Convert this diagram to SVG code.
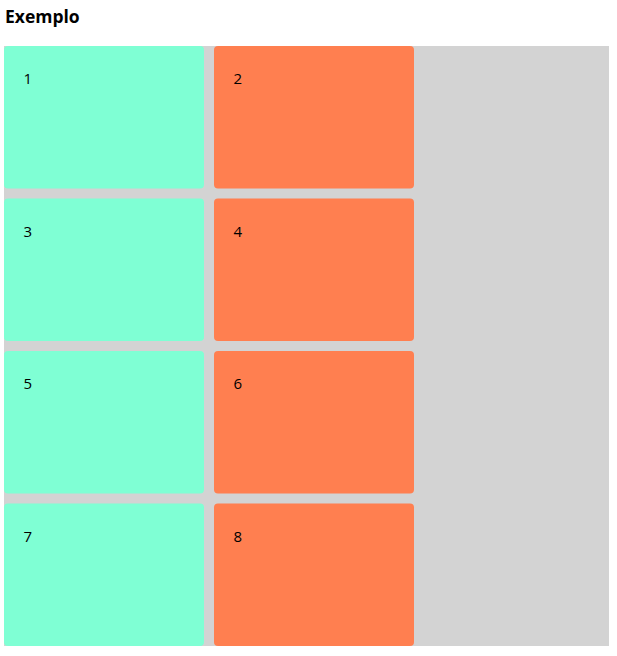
<svg xmlns="http://www.w3.org/2000/svg" width="617" height="656" viewBox="0 0 617 656">
<style>
.t{font-family:"Open Sans","Noto Sans","Liberation Sans",sans-serif;font-size:15px;fill:#000}
.a{fill:#7FFFD4}
.c{fill:#FF7F50}
</style>
<rect width="617" height="656" fill="#fff"/>
<text x="5" y="23" font-family="'Open Sans','Noto Sans','Liberation Sans',sans-serif" font-size="17.5" font-weight="bold" fill="#000">Exemplo</text>
<rect id="container" x="4" y="46" width="605" height="600" fill="#D3D3D3"/>
<g id="n1"><rect class="a" x="4" y="46" width="200" height="142.5" rx="4"/><text class="t" x="23.5" y="84">1</text></g>
<g id="n2"><rect class="c" x="214" y="46" width="200" height="142.5" rx="4"/><text class="t" x="233.5" y="84">2</text></g>
<g id="n3"><rect class="a" x="4" y="198.5" width="200" height="142.5" rx="4"/><text class="t" x="23.5" y="236.5">3</text></g>
<g id="n4"><rect class="c" x="214" y="198.5" width="200" height="142.5" rx="4"/><text class="t" x="233.5" y="236.5">4</text></g>
<g id="n5"><rect class="a" x="4" y="351" width="200" height="142.5" rx="4"/><text class="t" x="23.5" y="389">5</text></g>
<g id="n6"><rect class="c" x="214" y="351" width="200" height="142.5" rx="4"/><text class="t" x="233.5" y="389">6</text></g>
<g id="n7"><rect class="a" x="4" y="503.5" width="200" height="142.5" rx="4"/><text class="t" x="23.5" y="541.5">7</text></g>
<g id="n8"><rect class="c" x="214" y="503.5" width="200" height="142.5" rx="4"/><text class="t" x="233.5" y="541.5">8</text></g>
<g id="connectors"></g>
</svg>
